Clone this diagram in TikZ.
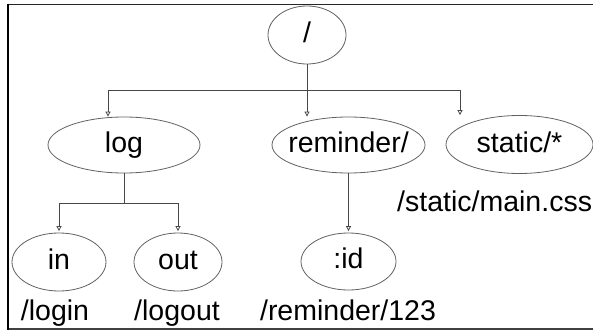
\documentclass[tikz,border=0pt]{standalone}
\usepackage{fontspec}
\setmainfont{Liberation Sans}
\usetikzlibrary{shapes.geometric,arrows.meta}
\begin{document}
\begin{tikzpicture}[x=1pt,y=-1pt,
  nd/.style={ellipse,draw=black!62,line width=0.8pt,inner sep=0pt},
  lbl/.style={anchor=base,inner sep=0pt,font=\fontsize{28.5}{31}\selectfont},
  conn/.style={draw=black!72,line width=0.8pt},
  arr/.style={conn,-{Triangle[open,length=5pt,width=5pt]}}]
\useasboundingbox (0,0) rectangle (593,331);
\begin{scope}
\clip (0,0) rectangle (593,331);
% frame
\draw[line width=1.6pt,black!85] (8,4.5) -- (593,4.5);
\draw[line width=1.5pt,black!75] (8,329) -- (593,329);
\draw[line width=2.2pt,black] (8,3.7) -- (8,329.8);
% nodes
\node[nd,minimum width=78,minimum height=58] (root) at (307,35) {};
\node[nd,minimum width=152,minimum height=56] (log) at (124,145) {};
\node[nd,minimum width=153,minimum height=56] (rem) at (348.5,145) {};
\node[nd,minimum width=147,minimum height=58] (stat) at (519.5,144.5) {};
\node[nd,minimum width=94,minimum height=58] (in) at (59,262) {};
\node[nd,minimum width=88,minimum height=58] (out) at (178,262) {};
\node[nd,minimum width=95,minimum height=57] (id) at (348.5,261.5) {};
% texts
\node[lbl] (troot) at ([yshift=-8pt]root.center) {/};
\node[lbl] (tlog) at ([yshift=-7.5pt]log.center) {log};
\node[lbl] (trem) at ([yshift=-7.5pt]rem.center) {reminder/};
\node[lbl] (tstat) at ([yshift=-7.5pt]stat.center) {static/*};
\node[lbl] (tin) at ([yshift=-7pt]in.center) {in};
\node[lbl] (tout) at ([yshift=-7pt]out.center) {out};
\node[lbl] (tid) at ([yshift=-7pt]id.center) {:id};
\node[lbl] (llogin) at (55,320) {/login};
\node[lbl] (llogout) at (177,320) {/logout};
\node[lbl] (lrem) at (348,320) {/reminder/123};
\node[lbl,anchor=base west] (lstat) at (397,211) {/static/main.css};
% connectors
\coordinate (bus) at (307,90);
\coordinate (busl) at (108,90);
\coordinate (busr) at (460,90);
\coordinate (bus2) at (124,203);
\draw[conn] (root.south) -- (bus);
\draw[arr] (bus) -| (log.north -| busl);
\draw[arr] (bus) -- (rem.north -| bus);
\draw[arr] (bus) -| (stat.north -| busr);
\draw[conn] (log.south) -- (bus2);
\draw[arr] (bus2) -| ([yshift=1.5pt]in.north);
\draw[arr] (bus2) -| ([yshift=1.5pt]out.north);
\draw[arr] (rem.south) -- ([yshift=1.5pt]id.north);
\end{scope}
\end{tikzpicture}
\end{document}
